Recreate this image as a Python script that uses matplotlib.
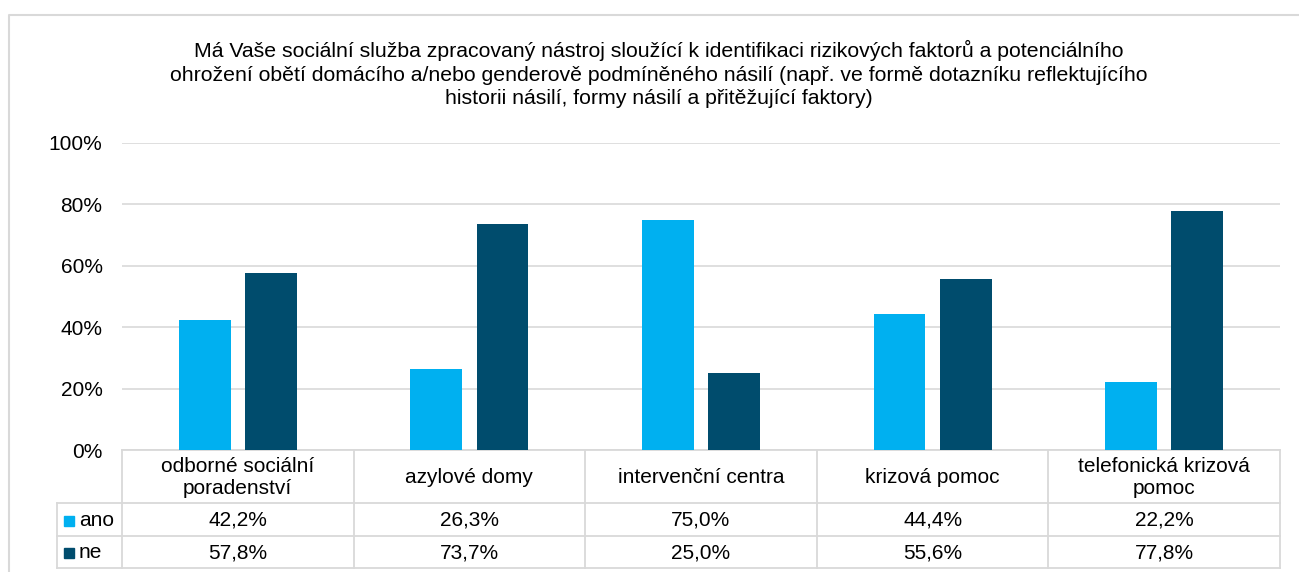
import numpy as np
import matplotlib.pyplot as plt

plt.rcParams['font.family'] = ['Liberation Sans', 'DejaVu Sans']

# data
categories = ["odborné sociální\nporadenství", "azylové domy", "intervenční centra",
              "krizová pomoc", "telefonická krizová\npomoc"]
ano = [42.2, 26.3, 75.0, 44.4, 22.2]
ne = [57.8, 73.7, 25.0, 55.6, 77.8]
series_names = ["ano", "ne"]
yticks = [0, 20, 40, 60, 80, 100]
title = ("Má Vaše sociální služba zpracovaný nástroj sloužící k identifikaci rizikových faktorů a potenciálního\n"
         "ohrožení obětí domácího a/nebo genderově podmíněného násilí (např. ve formě dotazníku reflektujícího\n"
         "historii násilí, formy násilí a přitěžující faktory)")

c_ano = "#00B0F0"
c_ne = "#004C6D"
grid_c = "#D9D9D9"
fs = 15

W, H = 1299, 572
fig = plt.figure(figsize=(W / 100, H / 100), dpi=100)

# overlay in pixel coordinates for frame, title and data table
ov = fig.add_axes([0, 0, 1, 1])
ov.set_xlim(0, W)
ov.set_ylim(H, 0)
ov.axis('off')

# plot area
x0, x1 = 122, 1280
y_top, y_bot = 143, 450
ax = fig.add_axes([x0 / W, 1 - y_bot / H, (x1 - x0) / W, (y_bot - y_top) / H])
x = np.arange(len(categories))
bw = 0.224
off = 0.143
ax.bar(x - off, ano, bw, color=c_ano, zorder=3)
ax.bar(x + off, ne, bw, color=c_ne, zorder=3)
ax.set_xlim(-0.5, len(categories) - 0.5)
ax.set_ylim(0, 100)
ax.set_yticks(yticks)
ax.set_yticklabels([f"{t}%" for t in yticks], fontsize=fs)
ax.set_xticks([])
ax.tick_params(axis='y', length=0, pad=14)
for s in ax.spines.values():
    s.set_visible(False)
ax.grid(axis='y', color=grid_c, linewidth=1.2, zorder=0)
ax.patch.set_alpha(0)

# outer frame
ov.plot([9, 9, W + 5], [H + 5, 15, 15], color=grid_c, lw=1.5)

# title
ov.text(W / 2 + 9, 74, title, ha='center', va='center', fontsize=15.3,
        linespacing=1.3, color='#000000')

# data table
col_w = (x1 - x0) / len(categories)
leg_x = 57
rows_y = [450, 503, 536, 568]
lc = grid_c
lw = 1.3
# horizontal lines
ov.plot([x0, x1], [rows_y[0]] * 2, color=lc, lw=lw)
for yy in rows_y[1:]:
    ov.plot([leg_x, x1], [yy] * 2, color=lc, lw=lw)
# vertical lines
ov.plot([leg_x, leg_x], [rows_y[1], rows_y[3]], color=lc, lw=lw)
for i in range(len(categories) + 1):
    xx = x0 + i * col_w
    ov.plot([xx, xx], [rows_y[0], rows_y[3]], color=lc, lw=lw)

for i, cat in enumerate(categories):
    cx = x0 + (i + 0.5) * col_w
    ov.text(cx, (rows_y[0] + rows_y[1]) / 2 + 1, cat, ha='center', va='center',
            fontsize=fs, linespacing=1.25)
    ov.text(cx, (rows_y[1] + rows_y[2]) / 2 + 1, f"{ano[i]:.1f}%".replace('.', ','),
            ha='center', va='center', fontsize=fs)
    ov.text(cx, (rows_y[2] + rows_y[3]) / 2 + 1, f"{ne[i]:.1f}%".replace('.', ','),
            ha='center', va='center', fontsize=fs)

for j, (name, col) in enumerate(zip(series_names, [c_ano, c_ne])):
    cy = (rows_y[j + 1] + rows_y[j + 2]) / 2 + 1
    ov.add_patch(plt.Rectangle((64, cy - 5), 10, 10, color=col))
    ov.text(79, cy, name, ha='left', va='center', fontsize=fs)

fig.savefig("out.png", dpi=100)
